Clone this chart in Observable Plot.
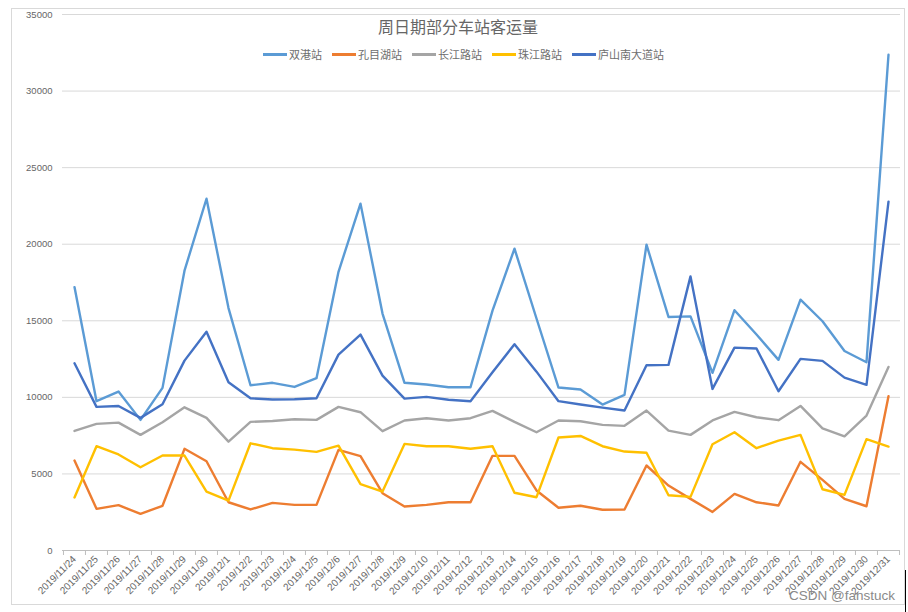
<!DOCTYPE html>
<html>
<head>
<meta charset="utf-8">
<script src="https://cdn.jsdelivr.net/npm/d3@7"></script>
<script src="https://cdn.jsdelivr.net/npm/@observablehq/plot@0.6"></script>
<style>
  html, body { margin: 0; padding: 0; background: #fff; }
  #wrap { position: relative; width: 908px; height: 612px; overflow: hidden; font-family: "Noto Sans CJK SC", "Liberation Sans", sans-serif; }
  #frame { position: absolute; left: 11px; top: 8px; width: 892px; height: 595px; border: 1px solid #d9d9d9; }
  #chart { position: absolute; left: 0; top: 0; }
  #title { position: absolute; left: 0; top: 16px; width: 916px; text-align: center; font-size: 16px; line-height: 20px; color: #666666; font-family: "Noto Sans CJK SC", serif; }
  #legend { position: absolute; left: 263px; top: 47px; display: flex; gap: 10px; font-size: 11px; line-height: 14px; color: #6e6e6e; }
  #legend .item { display: flex; align-items: center; }
  #legend .sw { display: inline-block; width: 24px; height: 3px; margin-right: 2px; }
  #wm { position: absolute; left: 789px; top: 588px; font-family: "Liberation Sans", Arial, sans-serif; font-size: 13.5px; color: #8a8a8a; }
  #edge { position: absolute; left: 905px; top: 570px; width: 1px; height: 42px; background: #000; }
</style>
</head>
<body>
<div id="wrap">
  <div id="frame"></div>
  <div id="chart"></div>
  <div id="title"></div>
  <div id="legend"></div>
  <div id="wm">CSDN @fanstuck</div>
  <div id="edge"></div>
</div>
<script>
const titleText = "周日期部分车站客运量";
const dates = ["2019/11/24","2019/11/25","2019/11/26","2019/11/27","2019/11/28","2019/11/29","2019/11/30",
  "2019/12/1","2019/12/2","2019/12/3","2019/12/4","2019/12/5","2019/12/6","2019/12/7","2019/12/8",
  "2019/12/9","2019/12/10","2019/12/11","2019/12/12","2019/12/13","2019/12/14","2019/12/15","2019/12/16",
  "2019/12/17","2019/12/18","2019/12/19","2019/12/20","2019/12/21","2019/12/22","2019/12/23","2019/12/24",
  "2019/12/25","2019/12/26","2019/12/27","2019/12/28","2019/12/29","2019/12/30","2019/12/31"];
const seriesNames = ["双港站","孔目湖站","长江路站","珠江路站","庐山南大道站"];
const seriesColors = ["#5B9BD5","#ED7D31","#A5A5A5","#FFC000","#4472C4"];
const yTicks = [0,5000,10000,15000,20000,25000,30000,35000];

const shuanggang = [17200,9750,10380,8530,10620,18270,22970,15830,10790,10950,10680,11250,18200,22650,15470,
  10950,10840,10660,10660,15660,19710,15150,10640,10510,9530,10160,19970,15250,15290,11600,15690,
  14100,12450,16380,14970,13030,12290,32370];
const kongmuhu = [5870,2720,2960,2390,2920,6640,5830,3150,2680,3110,2980,2980,6570,6160,3740,
  2870,2980,3150,3150,6180,6180,3920,2790,2920,2660,2680,5550,4240,3370,2520,3700,
  3150,2940,5790,4610,3370,2890,10070];
const changjianglu = [7810,8270,8350,7550,8380,9350,8660,7110,8400,8460,8570,8530,9380,9030,7790,
  8490,8640,8490,8640,9120,8400,7720,8490,8440,8200,8140,9140,7830,7550,8490,9050,
  8700,8510,9440,7980,7460,8810,11990];
const zhujianglu = [3460,6810,6270,5440,6200,6200,3850,3260,7000,6680,6590,6440,6850,4330,3850,
  6960,6810,6810,6640,6810,3770,3480,7380,7480,6810,6460,6380,3610,3500,6940,7720,
  6680,7180,7550,4000,3630,7270,6790];
const lushannan = [12230,9380,9440,8660,9550,12400,14290,10990,9940,9860,9880,9940,12790,14100,11420,
  9920,10030,9840,9750,11640,13470,11680,9750,9530,9330,9140,12100,12120,17900,10550,13250,
  13190,10400,12510,12380,11290,10820,22780];

const seriesValues = [shuanggang, kongmuhu, changjianglu, zhujianglu, lushannan];
const data = [];
seriesNames.forEach((name, si) => {
  dates.forEach((d, i) => data.push({series: name, date: d, value: seriesValues[si][i]}));
});

const W = 908, H = 612, mL = 62, mR = 8, mT = 14, mB = 62;
const step = (W - mL - mR) / dates.length;

const chart = Plot.plot({
  width: W, height: H,
  marginTop: mT, marginBottom: mB, marginLeft: mL, marginRight: mR,
  style: {fontFamily: "'Liberation Sans', Arial, sans-serif", fontSize: "9px", color: "#595959", background: "transparent"},
  x: {type: "point", domain: dates, padding: 0.5, label: null},
  y: {domain: [0, 35000], label: null},
  color: {domain: seriesNames, range: seriesColors},
  marks: [
    Plot.ruleY(yTicks, {stroke: "#d9d9d9", strokeWidth: 1}),
    Plot.ruleY([0], {stroke: "#bfbfbf", strokeWidth: 1}),
    Plot.axisY(yTicks, {tickSize: 0, tickPadding: 10, tickFormat: d => String(d), fontSize: 9.5, fill: "#666666"}),
    Plot.axisX({tickSize: 5, tickFormat: () => "", dx: -step / 2, stroke: "#bfbfbf"}),
    Plot.axisX([dates[dates.length - 1]], {tickSize: 5, tickFormat: () => "", dx: step / 2, stroke: "#bfbfbf"}),
    Plot.axisX({tickSize: 0, tickRotate: -45, textAnchor: "end", tickPadding: 7, fontSize: 10, fill: "#666666"}),
    Plot.line(data, {x: "date", y: "value", z: "series", stroke: "series", strokeWidth: 2.4, strokeLinejoin: "round", strokeLinecap: "round"})
  ]
});
document.getElementById("chart").appendChild(chart);
document.getElementById("title").textContent = titleText;

const legend = document.getElementById("legend");
seriesNames.forEach((name, i) => {
  const item = document.createElement("div");
  item.className = "item";
  const sw = document.createElement("span");
  sw.className = "sw";
  sw.style.background = seriesColors[i];
  const t = document.createElement("span");
  t.textContent = name;
  item.appendChild(sw);
  item.appendChild(t);
  legend.appendChild(item);
});
</script>
</body>
</html>
